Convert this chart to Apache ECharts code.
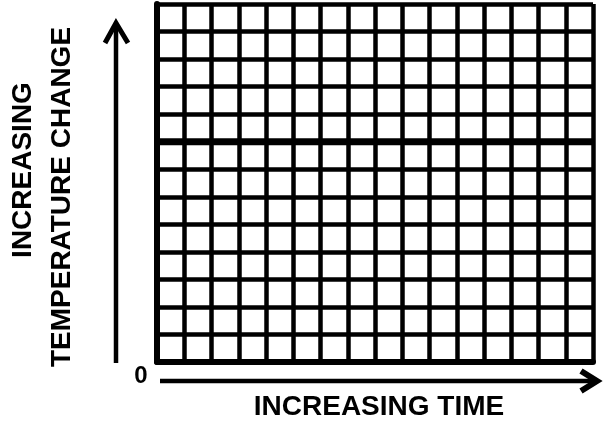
<!DOCTYPE html>
<html>
<head>
<meta charset="utf-8">
<script src="https://cdn.jsdelivr.net/npm/echarts@6/dist/echarts.min.js"></script>
<style>html,body{margin:0;padding:0;background:#fff}#c{width:603px;height:423px}</style>
</head>
<body>
<div id="c"></div>
<script>
// Data
const timeRange = [0, 16];          // grid columns (time units)
const tempRange = [0, 13];          // grid rows (temperature units)
const levelTime = [0, 16];          // horizontal reference line x
const levelTemp = [8, 8];           // horizontal reference line y
const xTitle = 'INCREASING TIME';
const yTitle1 = 'INCREASING';
const yTitle2 = 'TEMPERATURE CHANGE';
const originLabel = '0';

const chart = echarts.init(document.getElementById('c'), null, {renderer: 'canvas'});
const font = '"Liberation Sans", Arial, sans-serif';
const option = {
  backgroundColor: '#fff',
  animation: false,
  grid: {left: 157, top: 4, width: 436, height: 358, containLabel: false},
  xAxis: {
    type: 'value', min: timeRange[0], max: timeRange[1], interval: 1,
    axisLine: {show: true, onZero: false, lineStyle: {color: '#000', width: 6}},
    axisTick: {show: false}, axisLabel: {show: false},
    splitLine: {show: true, lineStyle: {color: '#000', width: 4.5}}
  },
  yAxis: {
    type: 'value', min: tempRange[0], max: tempRange[1], interval: 1,
    axisLine: {show: true, onZero: false, lineStyle: {color: '#000', width: 6}},
    axisTick: {show: false}, axisLabel: {show: false},
    splitLine: {show: true, lineStyle: {color: '#000', width: 4.5}}
  },
  series: [{
    type: 'line',
    data: levelTime.map((t, i) => [t, levelTemp[i]]),
    symbol: 'none',
    lineStyle: {color: '#000', width: 7},
    z: 5
  }],
  graphic: [
    // vertical arrow
    {type: 'line', shape: {x1: 116, y1: 363, x2: 116, y2: 25}, style: {stroke: '#000', lineWidth: 4.5}},
    {type: 'polyline', shape: {points: [[105, 43], [116, 23], [128, 43]]}, style: {stroke: '#000', lineWidth: 5, fill: null, lineJoin: 'miter'}},
    // horizontal arrow
    {type: 'line', shape: {x1: 160, y1: 381, x2: 594, y2: 381}, style: {stroke: '#000', lineWidth: 4.5}},
    {type: 'polyline', shape: {points: [[581, 371], [597, 381], [581, 391]]}, style: {stroke: '#000', lineWidth: 6, fill: null, lineJoin: 'miter'}},
    // texts
    {type: 'text', x: 141, y: 376, style: {text: originLabel, font: 'bold 24px ' + font, fill: '#000', textAlign: 'center', textVerticalAlign: 'middle'}},
    {type: 'text', x: 379, y: 407, style: {text: xTitle, font: 'bold 28px ' + font, fill: '#000', textAlign: 'center', textVerticalAlign: 'middle'}},
    {type: 'text', x: 23, y: 170, rotation: Math.PI / 2, style: {text: yTitle1, font: 'bold 28px ' + font, fill: '#000', textAlign: 'center', textVerticalAlign: 'middle'}},
    {type: 'text', x: 62, y: 197, rotation: Math.PI / 2, style: {text: yTitle2, font: 'bold 28px ' + font, fill: '#000', textAlign: 'center', textVerticalAlign: 'middle'}}
  ]
};
chart.setOption(option);
</script>
</body>
</html>
